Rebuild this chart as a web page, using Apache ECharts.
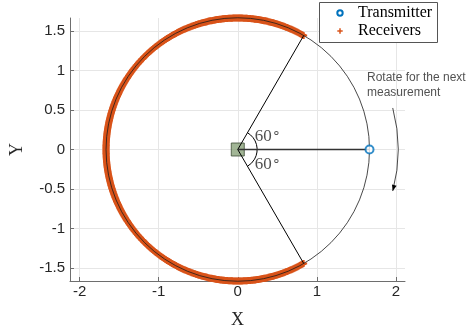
<!DOCTYPE html>
<html>
<head>
<meta charset="utf-8">
<script src="https://cdn.jsdelivr.net/npm/echarts@6/dist/echarts.min.js"></script>
<style>
  html, body { margin: 0; padding: 0; background: #fff; }
  #chart { width: 466px; height: 334px; }
</style>
</head>
<body>
<div id="chart"></div>
<script>
// Measurement geometry, in axis units
const ringRadius = 1.667;            // receiver ring / transmitter distance
const receiverArcDeg = [60, 300];    // receivers span this angular range
const receiverStepDeg = 0.5;         // receiver spacing along the ring
const transmitterPos = [1.667, 0];
const hubPos = [0, 0];
const sectorEdgeDeg = [60, -60];     // edges of the receiver-free sector
const angleMarkRadius = 0.245;
const rotateArcRadius = 2.03;
const rotateArcDeg = [15, -15];

// Axes
const xRange = [-2.123, 2.116];
const yRange = [-1.667, 1.667];
const xTicks = [-2, -1, 0, 1, 2];
const yTicks = [-1.5, -1, -0.5, 0, 0.5, 1, 1.5];

// Annotations
const legendNames = ['Transmitter', 'Receivers'];
const angleLabels = ['60', '60'];
const angleLabelPos = [[0.38, 0.167], [0.38, -0.192]];
const noteText = 'Rotate for the next\nmeasurement';
const notePos = [1.641, 0.806];

const deg = d => d * Math.PI / 180;

// Receiver positions along the ring
const receivers = [];
for (let a = receiverArcDeg[0]; a <= receiverArcDeg[1]; a += receiverStepDeg) {
  receivers.push([ringRadius * Math.cos(deg(a)), ringRadius * Math.sin(deg(a))]);
}
const sectorEnds = sectorEdgeDeg.map(a => [ringRadius * Math.cos(deg(a)), ringRadius * Math.sin(deg(a))]);

const plusIcon = 'path://M2.5,0H4.5V2.5H7V4.5H4.5V7H2.5V4.5H0V2.5H2.5Z';
const axisColor = '#6e6e6e';
const sans = 'Liberation Sans';
const serif = 'Liberation Serif';
const tickFont = { fontFamily: sans, fontSize: 15, color: '#262626' };
const txColor = '#0072BD';
const rxColor = '#D95319';

// Ring outline, angle marks and rotation arrow, drawn in pixel space from the axis scales
function renderGuides(params, api) {
  const c = api.coord(hubPos);
  const unit = api.size([1, 0])[0];
  const ringPx = ringRadius * unit;
  const markPx = angleMarkRadius * unit;
  const rotPx = rotateArcRadius * unit;
  const a0 = -deg(rotateArcDeg[0]);
  const a1 = -deg(rotateArcDeg[1]);
  const tip = [c[0] + rotPx * Math.cos(a1), c[1] + rotPx * Math.sin(a1)];
  const t = [-Math.sin(a1), Math.cos(a1)];
  const n = [-t[1], t[0]];
  const headLen = 6, headHalf = 2.4;
  const base = [tip[0] - t[0] * headLen, tip[1] - t[1] * headLen];
  return {
    type: 'group',
    children: [
      { type: 'circle', shape: { cx: c[0], cy: c[1], r: ringPx },
        style: { fill: 'none', stroke: '#1a1a1a', lineWidth: 0.8 } },
      { type: 'arc', shape: { cx: c[0], cy: c[1], r: markPx,
          startAngle: -deg(sectorEdgeDeg[0]), endAngle: -deg(sectorEdgeDeg[1]), clockwise: true },
        style: { fill: 'none', stroke: '#000', lineWidth: 1 } },
      { type: 'arc', shape: { cx: c[0], cy: c[1], r: rotPx, startAngle: a0, endAngle: a1, clockwise: true },
        style: { fill: 'none', stroke: '#1a1a1a', lineWidth: 0.8 } },
      { type: 'polygon', shape: { points: [
          tip,
          [base[0] + n[0] * headHalf, base[1] + n[1] * headHalf],
          [base[0] - n[0] * headHalf, base[1] - n[1] * headHalf]
        ] }, style: { fill: '#000' } }
    ]
  };
}

// Boxed key in the upper right corner (pixel layout)
const keyX = 319, keyY = 2, keyW = 118, keyH = 40;
const keyMarkX = 340, keyTextX = 358;
const keyRowY = [13, 31];
const legendItems = [
  { type: 'rect', shape: { x: keyX + 0.5, y: keyY + 0.5, width: keyW, height: keyH },
    style: { fill: '#fff', stroke: '#555', lineWidth: 1 }, z: 100 },
  { type: 'circle', shape: { cx: keyMarkX, cy: keyRowY[0], r: 2.7 },
    style: { fill: '#fff', stroke: txColor, lineWidth: 2 }, z: 101 },
  { type: 'rect', shape: { x: keyMarkX - 2.7, y: keyRowY[1] - 0.75, width: 5.4, height: 1.5 },
    style: { fill: rxColor }, z: 101 },
  { type: 'rect', shape: { x: keyMarkX - 0.75, y: keyRowY[1] - 2.7, width: 1.5, height: 5.4 },
    style: { fill: rxColor }, z: 101 },
  { type: 'text', x: keyTextX, y: keyRowY[0], z: 101,
    style: { text: legendNames[0], font: '16px "Liberation Serif"', fill: '#000', align: 'left', verticalAlign: 'middle' } },
  { type: 'text', x: keyTextX, y: keyRowY[1], z: 101,
    style: { text: legendNames[1], font: '16px "Liberation Serif"', fill: '#000', align: 'left', verticalAlign: 'middle' } }
];

const chart = echarts.init(document.getElementById('chart'));
chart.setOption({
  animation: false,
  backgroundColor: '#fff',
  grid: { left: 63, top: 18, width: 342, height: 269, containLabel: false },
  graphic: { elements: legendItems },
  xAxis: {
    type: 'value', min: xRange[0], max: xRange[1],
    name: 'X', nameLocation: 'middle', nameGap: 30,
    nameTextStyle: { fontFamily: serif, fontSize: 18, color: '#262626' },
    axisLine: { show: true, onZero: false, lineStyle: { color: axisColor, width: 1 } },
    axisTick: { show: true, inside: true, length: 4, customValues: xTicks, lineStyle: { color: axisColor } },
    axisLabel: Object.assign({ customValues: xTicks, margin: 3 }, tickFont),
    splitLine: { show: true, lineStyle: { color: '#e6e6e6', width: 1 } }
  },
  yAxis: {
    type: 'value', min: yRange[0], max: yRange[1],
    name: 'Y', nameLocation: 'middle', nameGap: 44,
    nameTextStyle: { fontFamily: serif, fontSize: 18, color: '#262626' },
    axisLine: { show: true, onZero: false, lineStyle: { color: axisColor, width: 1 } },
    axisTick: { show: true, inside: true, length: 4, customValues: yTicks, lineStyle: { color: axisColor } },
    axisLabel: Object.assign({ customValues: yTicks, margin: 5 }, tickFont),
    splitLine: { show: true, lineStyle: { color: '#e6e6e6', width: 1 } }
  },
  series: [
    {
      name: legendNames[1], type: 'scatter', data: receivers, clip: false, z: 2,
      symbol: plusIcon, symbolSize: 7,
      itemStyle: { color: rxColor, opacity: 1 }
    },
    {
      name: 'guides', type: 'custom', data: [hubPos], clip: false, z: 3,
      renderItem: renderGuides, silent: true
    },
    {
      name: 'hub', type: 'scatter', data: [hubPos], clip: false, z: 4,
      symbol: 'rect', symbolSize: 13,
      itemStyle: { color: '#8aa27a', borderColor: '#3d4b35', borderWidth: 1 }
    },
    {
      name: 'sector', type: 'line', data: [sectorEnds[0], hubPos, sectorEnds[1]], clip: false, z: 5,
      symbol: 'none', lineStyle: { color: '#000', width: 1 }
    },
    {
      name: 'baseline', type: 'line', data: [hubPos, transmitterPos], clip: false, z: 5,
      symbol: 'none', lineStyle: { color: '#333', width: 1.3 }
    },
    {
      name: legendNames[0], type: 'scatter', data: [transmitterPos], clip: false, z: 6,
      symbol: 'circle', symbolSize: 8,
      itemStyle: { color: '#fff', borderColor: txColor, borderWidth: 2 }
    },
    {
      name: 'angles', type: 'scatter', clip: false, z: 7, silent: true,
      symbolSize: 1, itemStyle: { color: 'transparent' },
      label: {
        show: true, position: 'inside',
        formatter: p => '{n|' + angleLabels[p.dataIndex] + '}{d|∘}',
        rich: {
          n: { fontFamily: serif, fontSize: 17, color: '#262626' },
          d: { fontFamily: serif, fontSize: 14, color: '#262626', verticalAlign: 'top', padding: [0, 0, 6, 0] }
        }
      },
      data: angleLabelPos
    },
    {
      name: 'note', type: 'scatter', clip: false, z: 7, silent: true,
      symbolSize: 1, itemStyle: { color: 'transparent' },
      label: {
        show: true, formatter: noteText, position: [0, 0], align: 'left', verticalAlign: 'middle',
        fontFamily: sans, fontSize: 12, lineHeight: 15, color: '#262626'
      },
      data: [notePos]
    }
  ]
});
</script>
</body>
</html>
